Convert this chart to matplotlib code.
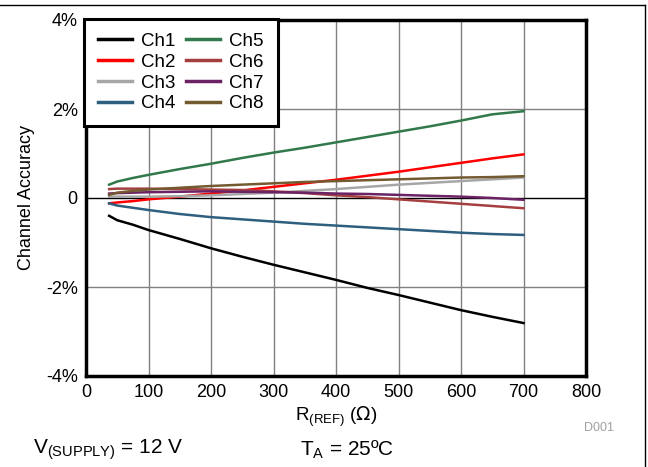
import matplotlib.pyplot as plt
from matplotlib.lines import Line2D

plt.rcParams['font.family'] = ['Liberation Sans', 'DejaVu Sans']

# R(REF) in ohms
r_ref = [37, 50, 75, 100, 150, 200, 250, 300, 350, 400, 450, 500, 550, 600, 650, 700]

# channel accuracy in %
ch1 = [-0.40, -0.50, -0.60, -0.72, -0.92, -1.13, -1.32, -1.50, -1.67, -1.84, -2.02, -2.18, -2.35, -2.52, -2.67, -2.81]
ch2 = [-0.12, -0.10, -0.07, -0.03, 0.03, 0.10, 0.17, 0.25, 0.33, 0.41, 0.50, 0.59, 0.69, 0.79, 0.89, 0.98]
ch3 = [0.03, 0.03, 0.03, 0.03, 0.04, 0.06, 0.09, 0.12, 0.16, 0.20, 0.25, 0.30, 0.34, 0.38, 0.42, 0.46]
ch4 = [-0.12, -0.17, -0.22, -0.27, -0.36, -0.43, -0.48, -0.53, -0.58, -0.62, -0.66, -0.70, -0.74, -0.78, -0.81, -0.83]
ch5 = [0.30, 0.37, 0.45, 0.52, 0.65, 0.77, 0.90, 1.02, 1.13, 1.25, 1.37, 1.49, 1.61, 1.74, 1.88, 1.95]
ch6 = [0.20, 0.21, 0.21, 0.21, 0.20, 0.19, 0.18, 0.15, 0.11, 0.06, 0.02, -0.03, -0.08, -0.13, -0.18, -0.23]
ch7 = [0.10, 0.11, 0.12, 0.13, 0.14, 0.15, 0.14, 0.13, 0.12, 0.10, 0.09, 0.07, 0.05, 0.03, 0.00, -0.04]
ch8 = [0.07, 0.12, 0.16, 0.19, 0.23, 0.27, 0.30, 0.33, 0.36, 0.38, 0.40, 0.42, 0.44, 0.46, 0.47, 0.49]

series = [("Ch1", ch1, "#000000"), ("Ch2", ch2, "#FF0000"), ("Ch3", ch3, "#A6A6A6"),
          ("Ch4", ch4, "#2F5F7F"), ("Ch5", ch5, "#31794A"), ("Ch6", ch6, "#A53F3F"),
          ("Ch7", ch7, "#6B2366"), ("Ch8", ch8, "#735A30")]

x_ticks = [0, 100, 200, 300, 400, 500, 600, 700, 800]
y_ticks = [-4, -2, 0, 2, 4]
y_labels = ["-4%", "-2%", "0", "2%", "4%"]

fig = plt.figure(figsize=(6.48, 4.67), dpi=100)
ax = fig.add_axes([86 / 648, 1 - 376 / 467, 500 / 648, 356 / 467])

for xv in x_ticks[1:-1]:
    ax.axvline(xv, color="#808080", lw=1.0, zorder=1)
for yv in [-2, 2]:
    ax.axhline(yv, color="#808080", lw=1.0, zorder=1)
ax.axhline(0, color="black", lw=1.0, zorder=1)

for name, vals, col in series:
    ax.plot(r_ref, vals, color=col, lw=1.8, label=name, zorder=3)

ax.set_xlim(0, 800)
ax.set_ylim(-4, 4)
ax.set_xticks(x_ticks)
ax.set_yticks(y_ticks)
ax.set_yticklabels(y_labels)
ax.tick_params(length=0, labelsize=13, pad=6)
for s in ax.spines.values():
    s.set_linewidth(2.5)

ax.set_xlabel(r"R$_{\mathregular{(REF)}}$ ($\Omega$)", fontsize=13.5, labelpad=2)
ax.set_ylabel("Channel Accuracy", fontsize=13, labelpad=8)

leg = ax.legend(ncol=2, loc="upper left", bbox_to_anchor=(-0.004, 1.004), fontsize=13.5,
                frameon=True, fancybox=False, edgecolor="black", framealpha=1,
                handlelength=1.8, columnspacing=0.55, labelspacing=0.2,
                borderpad=0.75, handletextpad=0.5, borderaxespad=0)
leg.get_frame().set_linewidth(2.2)
leg.set_zorder(5)
for h in leg.get_lines():
    h.set_linewidth(2.5)

fig.text(584 / 648, 1 - 428 / 467, "D001", color="#A0A0A0", fontsize=9, va="center")
fig.text(33 / 648, 1 - 450 / 467, r"V$_{\mathregular{(SUPPLY)}}$ = 12 V", fontsize=15, va="center")
fig.text(300 / 648, 1 - 450 / 467, r"T$_{\mathregular{A}}$ = 25ºC", fontsize=15, va="center")

fig.add_artist(Line2D([0, 645 / 648], [1 - 5 / 467, 1 - 5 / 467], color="black", lw=1.0, transform=fig.transFigure))
fig.add_artist(Line2D([645 / 648, 645 / 648], [0, 1 - 5 / 467], color="black", lw=1.0, transform=fig.transFigure))

fig.savefig("out.png", dpi=100)
